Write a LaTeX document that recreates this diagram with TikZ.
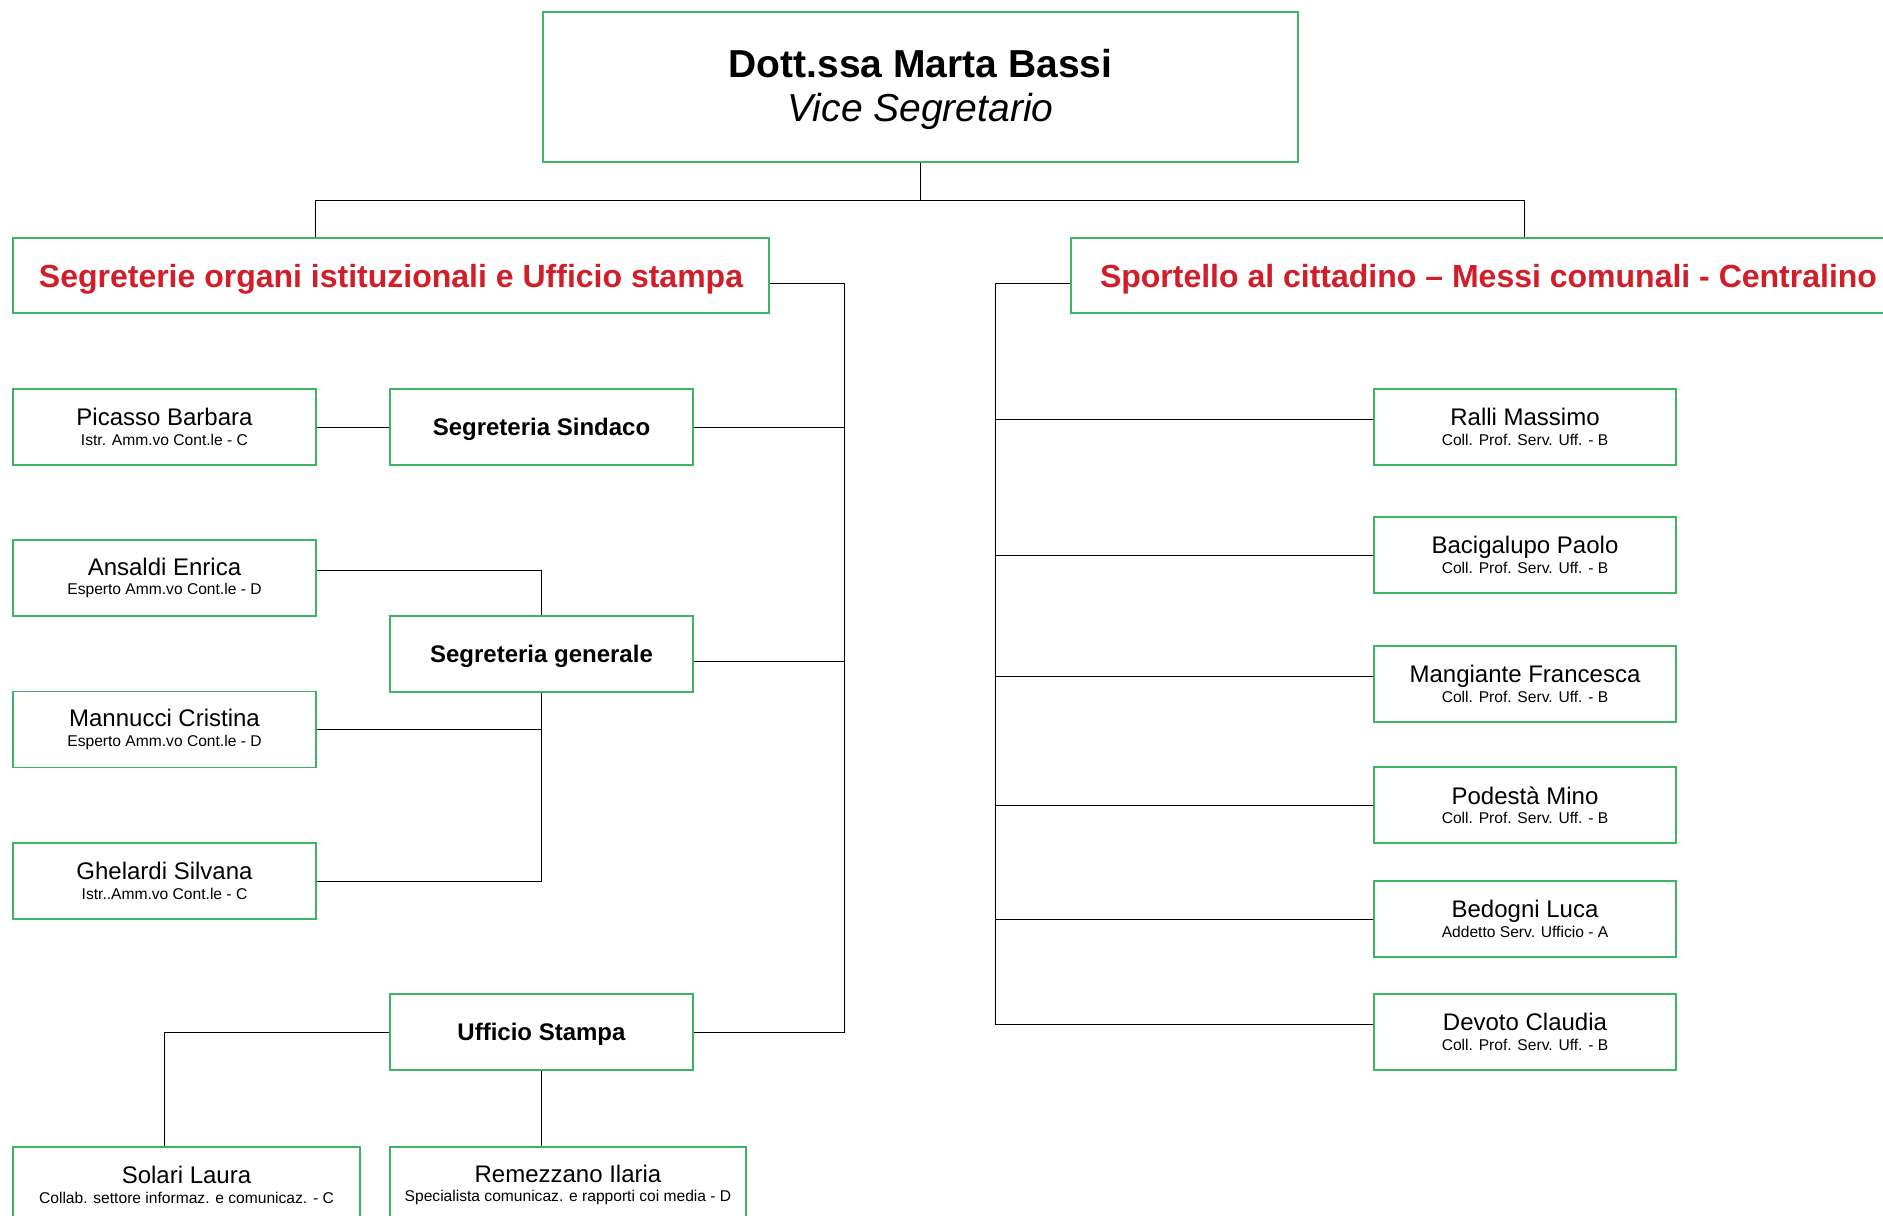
\documentclass[tikz,border=0pt]{standalone}
\usepackage{fontspec}
\setmainfont{Liberation Sans}
\definecolor{boxgreen}{RGB}{60,180,100}
\definecolor{headred}{RGB}{210,30,40}
\newcommand{\persona}[2]{#1\\{\fontsize{15.6}{17}\selectfont #2}}
\begin{document}
\begin{tikzpicture}[x=1pt,y=-1pt,
  box/.style={draw=boxgreen, line width=1.5pt, fill=white, inner sep=0pt, align=center},
  boss/.style={box, minimum width=755pt, minimum height=150pt, font=\fontsize{39}{44}\selectfont},
  headbox/.style={box, minimum height=75pt, text=headred, text depth=0pt, font=\fontsize{32}{36}\selectfont\bfseries},
  unitbox/.style={box, minimum width=303pt, minimum height=76pt, text depth=0pt, font=\fontsize{24}{26}\selectfont\bfseries},
  personbox/.style={box, minimum width=303pt, minimum height=76pt, font=\fontsize{24}{19.5}\selectfont},
  link/.style={draw=black, line width=1pt}]
\useasboundingbox (0,0) rectangle (1883,1216);
\fill[white] (0,0) rectangle (1883,1216);

% top
\node[boss] (top) at (920.5,87) {};
\node[font=\fontsize{39}{44}\selectfont, align=center, inner sep=0pt] (toptext) at (920.5,89.5) {\textbf{Dott.ssa Marta Bassi}\\\textit{Vice Segretario}};

% headers
\node[headbox, minimum width=756pt] (lefthead) at (391,275.5) {Segreterie organi istituzionali e Ufficio stampa};
\node[headbox, minimum width=835pt] (righthead) at (1488.5,275.5) {Sportello al cittadino – Messi comunali - Centralino};

% left column persons
\node[personbox] (picasso) at (164.5,427) {\persona{Picasso Barbara}{Istr. Amm.vo Cont.le - C}};
\node[personbox] (ansaldi) at (164.5,578) {\persona{Ansaldi Enrica}{Esperto Amm.vo Cont.le - D}};
\node[personbox] (mannucci) at (164.5,729.5) {\persona{Mannucci Cristina}{Esperto Amm.vo Cont.le - D}};
\node[personbox] (ghelardi) at (164.5,881) {\persona{Ghelardi Silvana}{Istr..Amm.vo Cont.le - C}};

% units
\node[unitbox] (sindaco) at (541.5,427) {Segreteria Sindaco};
\node[unitbox] (generale) at (541.5,654) {Segreteria generale};
\node[unitbox] (stampa) at (541.5,1032) {Ufficio Stampa};

% bottom persons
\node[personbox, minimum width=347pt] (solari) at (186.5,1185) {\persona{Solari Laura}{Collab. settore informaz. e comunicaz. - C}};
\node[personbox, minimum width=356pt] (remezzano) at (568,1185) {\persona{Remezzano Ilaria}{Specialista comunicaz. e rapporti coi media - D}};

% right column persons
\node[personbox, minimum width=302pt] (ralli) at (1525,427) {\persona{Ralli Massimo}{Coll. Prof. Serv. Uff. - B}};
\node[personbox, minimum width=302pt] (bacigalupo) at (1525,555) {\persona{Bacigalupo Paolo}{Coll. Prof. Serv. Uff. - B}};
\node[personbox, minimum width=302pt] (mangiante) at (1525,684) {\persona{Mangiante Francesca}{Coll. Prof. Serv. Uff. - B}};
\node[personbox, minimum width=302pt] (podesta) at (1525,805) {\persona{Podestà Mino}{Coll. Prof. Serv. Uff. - B}};
\node[personbox, minimum width=302pt] (bedogni) at (1525,919) {\persona{Bedogni Luca}{Addetto Serv. Ufficio - A}};
\node[personbox, minimum width=302pt] (devoto) at (1525,1032) {\persona{Devoto Claudia}{Coll. Prof. Serv. Uff. - B}};

% coordinates for buses
\coordinate (busL) at (315,200);
\coordinate (busR) at (1524,200);
\coordinate (spineL) at (844,283);
\coordinate (spineR) at (995,283);

% top connectors
\draw[link] (top.south) -- (top.south |- busL);
\draw[link] (busL |- lefthead.north) -- (busL) -- (busR) -- (busR |- righthead.north);

% left spine
\draw[link] ([yshift=-7.5pt]lefthead.east) -- (spineL);
\draw[link] (sindaco.east) -| (spineL);
\draw[link] ([yshift=-7pt]generale.east) -| (spineL);
\draw[link] (stampa.east) -| (spineL);

% segreteria sindaco
\draw[link] (picasso.east) -- (sindaco.west);

% segreteria generale
\draw[link] ([yshift=8pt]ansaldi.east) -| (generale.north);
\draw[link] (mannucci.east) -| (generale.south);
\draw[link] (ghelardi.east) -| (generale.south);

% ufficio stampa
\draw[link] (stampa.west) -| ([xshift=-22pt]solari.north);
\draw[link] (stampa.south) -- (stampa.south |- remezzano.north);

% right spine
\draw[link] ([yshift=-7.5pt]righthead.west) -- (spineR);
\draw[link] ([yshift=8pt]ralli.west) -| (spineR);
\draw[link] (bacigalupo.west) -| (spineR);
\draw[link] ([yshift=8pt]mangiante.west) -| (spineR);
\draw[link] (podesta.west) -| (spineR);
\draw[link] (bedogni.west) -| (spineR);
\draw[link] ([yshift=8pt]devoto.west) -| (spineR);
\end{tikzpicture}
\end{document}
